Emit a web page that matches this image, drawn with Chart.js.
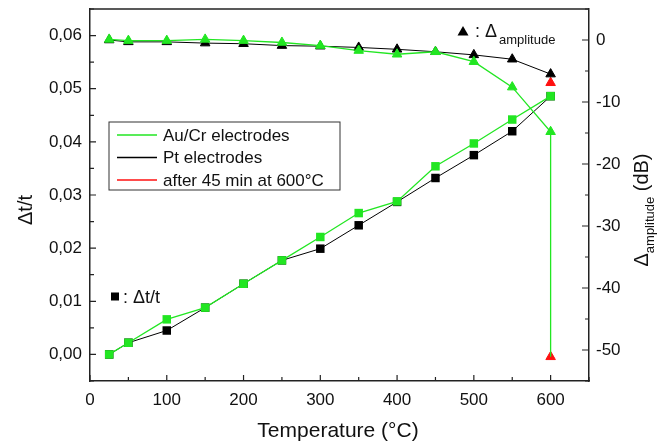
<!DOCTYPE html>
<html>
<head>
<meta charset="utf-8">
<script src="https://cdn.jsdelivr.net/npm/chart.js@4/dist/chart.umd.min.js"></script>
<style>
  html, body { margin: 0; padding: 0; background: #fff; }
  canvas { display: block; }
</style>
</head>
<body>
<canvas id="chart" width="667" height="442"></canvas>
<script>
// data
const TEMPS      = [25, 50, 100, 150, 200, 250, 300, 350, 400, 450, 500, 550, 600];
const DT_AUCR    = [0.0000, 0.0022, 0.0066, 0.0088, 0.0133, 0.0177, 0.0221, 0.0266, 0.0288, 0.0354, 0.0397, 0.0442, 0.0486];
const DT_PT      = [0.0000, 0.0022, 0.0045, 0.0088, 0.0133, 0.0177, 0.0199, 0.0243, 0.0287, 0.0332, 0.0375, 0.0420, 0.0486];
const AMP_AUCR   = [0.1, -0.1, -0.1, 0.1, -0.1, -0.4, -0.9, -1.7, -2.3, -1.9, -3.5, -7.6, -14.8];
const AMP_PT     = [0.0, -0.3, -0.3, -0.5, -0.6, -0.9, -1.0, -1.2, -1.5, -1.9, -2.4, -3.1, -5.5];
const AFTER_TEMP = [600, 600];
const AFTER_AMP  = [-6.9, -51.1];   // Pt, Au/Cr after 45 min at 600 °C

const X_TICKS  = [0, 100, 200, 300, 400, 500, 600];
const Y_TICKS  = [0, 0.01, 0.02, 0.03, 0.04, 0.05, 0.06];
const Y2_TICKS = [-50, -40, -30, -20, -10, 0];

const LEGEND_LABELS = ['Au/Cr electrodes', 'Pt electrodes', 'after 45 min at 600°C'];

const GREEN = '#22e622';
const BLACK = '#000000';
const RED   = '#ff1010';
const AXIS  = '#222222';
const FONT  = '"Liberation Sans", Arial, sans-serif';

function pts(xs, ys) {
    return xs.map((x, i) => ({ x: x, y: ys[i] }));
}

// Au/Cr amplitude line drops down to the post-anneal point
const ampAuCrLine = pts(TEMPS, AMP_AUCR).concat([{ x: AFTER_TEMP[1], y: AFTER_AMP[1] }]);
const ampAuCrRadius = TEMPS.map(() => 5.5).concat([0]);

/**
 * inward ticks, frame, legend and labels
 */
const decorPlugin = {
    id: 'decor',
    afterDraw(chart) {
        const ctx = chart.ctx;
        const a = chart.chartArea;
        const sx = chart.scales.x, sy = chart.scales.y, sy2 = chart.scales.y2;
        ctx.save();

        // top frame line
        ctx.strokeStyle = AXIS;
        ctx.lineWidth = 1.5;
        ctx.beginPath();
        ctx.moveTo(a.left, a.top);
        ctx.lineTo(a.right, a.top);
        ctx.stroke();

        // inward ticks
        ctx.lineWidth = 1.2;
        ctx.beginPath();
        for (let v = 0; v <= 650; v += 50) {
            const px = sx.getPixelForValue(v);
            const len = (v % 100 === 0) ? 6 : 4;
            ctx.moveTo(px, a.bottom);
            ctx.lineTo(px, a.bottom - len);
        }
        for (let i = -1; i <= 13; i++) {
            const v = i * 0.005;
            const py = sy.getPixelForValue(v);
            if (py < a.top || py > a.bottom) continue;
            const len = (i % 2 === 0) ? 6 : 4;
            ctx.moveTo(a.left, py);
            ctx.lineTo(a.left + len, py);
        }
        for (let v = -55; v <= 5; v += 5) {
            const py = sy2.getPixelForValue(v);
            const len = (v % 10 === 0) ? 7 : 4;
            ctx.moveTo(a.right, py);
            ctx.lineTo(a.right - len, py);
        }
        ctx.stroke();

        // legend box
        const lx = 109, ly = 122, lw = 231, lh = 68;
        ctx.lineWidth = 1;
        ctx.strokeStyle = '#333';
        ctx.strokeRect(lx, ly, lw, lh);
        const colors = [GREEN, BLACK, RED];
        ctx.font = '17px ' + FONT;
        ctx.textBaseline = 'middle';
        ctx.textAlign = 'left';
        for (let i = 0; i < LEGEND_LABELS.length; i++) {
            const yy = ly + 13 + i * 22.5;
            ctx.strokeStyle = colors[i];
            ctx.lineWidth = 1.5;
            ctx.beginPath();
            ctx.moveTo(lx + 8, yy);
            ctx.lineTo(lx + 48, yy);
            ctx.stroke();
            ctx.fillStyle = '#111';
            ctx.fillText(LEGEND_LABELS[i], lx + 54, yy + 1);
        }

        // marker key: triangle = amplitude
        ctx.fillStyle = BLACK;
        ctx.beginPath();
        ctx.moveTo(463, 26);
        ctx.lineTo(468.5, 35.5);
        ctx.lineTo(457.5, 35.5);
        ctx.closePath();
        ctx.fill();
        ctx.fillStyle = '#111';
        ctx.font = '18px ' + FONT;
        ctx.textBaseline = 'alphabetic';
        ctx.fillText(':', 475, 37);
        ctx.fillText('\u0394', 485, 37);
        ctx.font = '13px ' + FONT;
        ctx.fillText('amplitude', 499, 44);

        // marker key: square = dt/t
        ctx.fillStyle = BLACK;
        ctx.fillRect(111, 292.5, 8, 8);
        ctx.fillStyle = '#111';
        ctx.font = '18px ' + FONT;
        ctx.fillText(':', 123, 303);
        ctx.fillText('\u0394t/t', 133, 303);

        // axis titles
        ctx.textAlign = 'center';
        ctx.font = '21px ' + FONT;
        ctx.fillText('Temperature (°C)', 338, 437);

        ctx.save();
        ctx.translate(32, 210);
        ctx.rotate(-Math.PI / 2);
        ctx.font = '20px ' + FONT;
        ctx.fillText('\u0394t/t', 0, 0);
        ctx.restore();

        ctx.save();
        ctx.translate(648, 210);
        ctx.rotate(-Math.PI / 2);
        ctx.textAlign = 'left';
        ctx.font = '20px ' + FONT;
        const wD = ctx.measureText('\u0394').width;
        ctx.font = '13px ' + FONT;
        const wS = ctx.measureText('amplitude').width;
        ctx.font = '20px ' + FONT;
        const wB = ctx.measureText(' (dB)').width;
        let x0 = -(wD + wS + wB) / 2;
        ctx.fillText('\u0394', x0, 0);
        ctx.font = '13px ' + FONT;
        ctx.fillText('amplitude', x0 + wD, 6);
        ctx.font = '20px ' + FONT;
        ctx.fillText(' (dB)', x0 + wD + wS, 0);
        ctx.restore();

        ctx.restore();
    }
};

function fixTicks(values) {
    return function(scale) {
        scale.ticks = values.map(v => ({ value: v }));
    };
}

// fixed scale sizes so the plot area matches the figure
function fitSize(w, h) {
    return function(scale) {
        if (w !== null) scale.width = w;
        if (h !== null) scale.height = h;
        scale.paddingTop = 0;
        scale.paddingBottom = 0;
        scale.paddingLeft = 0;
        scale.paddingRight = 0;
    };
}

const config = {
    type: 'line',
    data: {
        datasets: [
            {
                label: 'dt Au/Cr',
                data: pts(TEMPS, DT_AUCR),
                yAxisID: 'y',
                borderColor: GREEN,
                backgroundColor: GREEN,
                borderWidth: 1.3,
                pointStyle: 'rect',
                pointRadius: 6,
                pointBorderWidth: 0,
                order: 1,
            },
            {
                label: 'dt Pt',
                data: pts(TEMPS, DT_PT),
                yAxisID: 'y',
                borderColor: BLACK,
                backgroundColor: BLACK,
                borderWidth: 1,
                pointStyle: 'rect',
                pointRadius: 6,
                pointBorderWidth: 0,
                order: 2,
            },
            {
                label: 'amp Au/Cr',
                data: ampAuCrLine,
                yAxisID: 'y2',
                borderColor: GREEN,
                backgroundColor: GREEN,
                borderWidth: 1.3,
                pointStyle: 'triangle',
                pointRadius: ampAuCrRadius,
                pointBorderWidth: 1,
                order: 1,
            },
            {
                label: 'amp Pt',
                data: pts(TEMPS, AMP_PT),
                yAxisID: 'y2',
                borderColor: BLACK,
                backgroundColor: BLACK,
                borderWidth: 1,
                pointStyle: 'triangle',
                pointRadius: 5.5,
                pointBorderWidth: 1,
                order: 2,
            },
            {
                label: 'after 45 min',
                data: pts(AFTER_TEMP, AFTER_AMP),
                yAxisID: 'y2',
                showLine: false,
                borderColor: RED,
                backgroundColor: RED,
                pointStyle: 'triangle',
                pointRadius: 5.5,
                pointBorderWidth: 1,
                order: 3,
            },
        ]
    },
    options: {
        responsive: false,
        animation: false,
        layout: { padding: { top: 9, left: 0, right: 0, bottom: 0 } },
        plugins: {
            legend: { display: false },
            tooltip: { enabled: false },
        },
        scales: {
            x: {
                type: 'linear',
                position: 'bottom',
                min: 0,
                max: 650,
                afterBuildTicks: fixTicks(X_TICKS),
                afterFit: fitSize(null, 61),
                grid: { display: false, drawTicks: false },
                border: { display: true, color: AXIS, width: 1.5 },
                ticks: {
                    padding: 9,
                    color: '#111',
                    font: { family: FONT, size: 17 },
                    maxRotation: 0,
                },
            },
            y: {
                type: 'linear',
                position: 'left',
                min: -0.005,
                max: 0.065,
                afterBuildTicks: fixTicks(Y_TICKS),
                afterFit: fitSize(90, null),
                grid: { display: false, drawTicks: false },
                border: { display: true, color: AXIS, width: 1.5 },
                ticks: {
                    padding: 8,
                    color: '#111',
                    font: { family: FONT, size: 17 },
                    callback: function(v) { return v.toFixed(2).replace('.', ','); },
                },
            },
            y2: {
                type: 'linear',
                position: 'right',
                min: -55,
                max: 5,
                afterBuildTicks: fixTicks(Y2_TICKS),
                afterFit: fitSize(78, null),
                grid: { display: false, drawTicks: false },
                border: { display: true, color: AXIS, width: 1.5 },
                ticks: {
                    padding: 7,
                    color: '#111',
                    font: { family: FONT, size: 17 },
                    callback: function(v) { return String(v); },
                },
            },
        }
    },
    plugins: [decorPlugin],
};

new Chart(document.getElementById('chart'), config);
</script>
</body>
</html>
